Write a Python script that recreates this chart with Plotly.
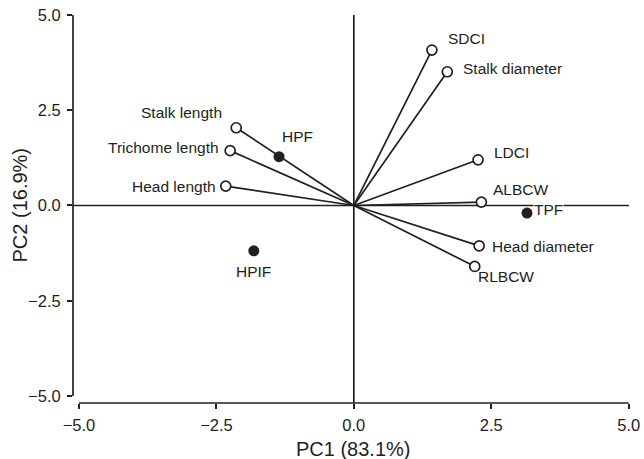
import plotly.graph_objects as go

# Variable loadings (arrows, open circles)
var_names = ["Stalk length", "Trichome length", "Head length", "SDCI", "Stalk diameter",
             "LDCI", "ALBCW", "Head diameter", "RLBCW"]
var_pc1 = [-2.14, -2.25, -2.33, 1.42, 1.70, 2.26, 2.32, 2.28, 2.20]
var_pc2 = [2.04, 1.44, 0.51, 4.08, 3.51, 1.20, 0.09, -1.06, -1.60]

# Group scores (filled circles)
grp_names = ["HPF", "HPIF", "TPF"]
grp_pc1 = [-1.36, -1.82, 3.15]
grp_pc2 = [1.28, -1.19, -0.20]

tick_vals = [-5.0, -2.5, 0.0, 2.5, 5.0]
tick_text = ["\u22125.0", "\u22122.5", "0.0", "2.5", "5.0"]

# label placement (pixel offsets, anchor)
label_style = {
    "Stalk length": ("right", -13, 15),
    "Trichome length": ("right", -10, 3),
    "Head length": ("right", -9, 0),
    "SDCI": ("left", 15, 12),
    "Stalk diameter": ("left", 15, 3),
    "LDCI": ("left", 15, 7),
    "ALBCW": ("left", 11, 13),
    "Head diameter": ("left", 12, -1),
    "RLBCW": ("left", 2, -10),
    "HPF": ("left", 2, 20),
    "HPIF": ("center", 0, -21),
    "TPF": ("left", 6, 4),
}

INK = "#231f20"
FONT = "Liberation Sans, Arial, Helvetica, sans-serif"

fig = go.Figure()

# loading lines from origin
lx, ly = [], []
for x, y in zip(var_pc1, var_pc2):
    lx += [0, x, None]
    ly += [0, y, None]
fig.add_trace(go.Scatter(x=lx, y=ly, mode="lines", line=dict(color=INK, width=1.7),
                         hoverinfo="skip", showlegend=False))

fig.add_trace(go.Scatter(x=var_pc1, y=var_pc2, mode="markers", text=var_names,
                         marker=dict(size=10, color="white", line=dict(color=INK, width=1.7)),
                         showlegend=False))
fig.add_trace(go.Scatter(x=grp_pc1, y=grp_pc2, mode="markers", text=grp_names,
                         marker=dict(size=11, color=INK, line=dict(width=0)),
                         showlegend=False))

for name, x, y in list(zip(var_names, var_pc1, var_pc2)) + list(zip(grp_names, grp_pc1, grp_pc2)):
    anchor, dx, dy = label_style[name]
    fig.add_annotation(x=x, y=y, xref="x", yref="y", text=name, showarrow=False,
                       xanchor=anchor, yanchor="middle", xshift=dx, yshift=dy,
                       font=dict(family=FONT, size=15.5, color=INK),
                       bgcolor="white" if name == "TPF" else None, borderpad=0)

# axis lines and zero lines
fig.add_shape(type="line", xref="paper", yref="y", x0=0, x1=0, y0=-5, y1=5,
              line=dict(color=INK, width=1.7))
fig.add_shape(type="line", xref="x", yref="paper", x0=-5, x1=5, y0=0, y1=0,
              line=dict(color=INK, width=1.7))
fig.add_shape(type="line", xref="x", yref="paper", x0=0, x1=0, y0=0, y1=1,
              line=dict(color=INK, width=1.7), layer="below")
fig.add_shape(type="line", xref="paper", yref="y", x0=0, x1=1, y0=0, y1=0,
              line=dict(color=INK, width=1.7), layer="below")

# axis titles
fig.add_annotation(x=0, y=0, xref="x", yref="paper", text="PC1 (83.1%)", showarrow=False,
                   xanchor="center", yanchor="middle", yshift=-46,
                   font=dict(family=FONT, size=20, color=INK))
fig.add_annotation(x=0, y=0, xref="paper", yref="y", text="PC2 (16.9%)", showarrow=False,
                   xanchor="center", yanchor="middle", xshift=-53, textangle=-90,
                   font=dict(family=FONT, size=20, color=INK))

axis_common = dict(showgrid=False, zeroline=False, showline=False, ticks="outside",
                   ticklen=5, tickwidth=1.7, tickcolor=INK, tickvals=tick_vals,
                   ticktext=tick_text, automargin=False,
                   tickfont=dict(family=FONT, size=16.5, color=INK))

fig.update_layout(
    width=644, height=459,
    margin=dict(l=73, r=15, t=15, b=56),
    plot_bgcolor="white", paper_bgcolor="white",
    xaxis=dict(range=[-5.109, 5.006], ticklabelstandoff=2, **axis_common),
    yaxis=dict(range=[-5.184, 5.0], ticklabelstandoff=3, **axis_common),
    showlegend=False,
)

fig.write_html("out.html")
